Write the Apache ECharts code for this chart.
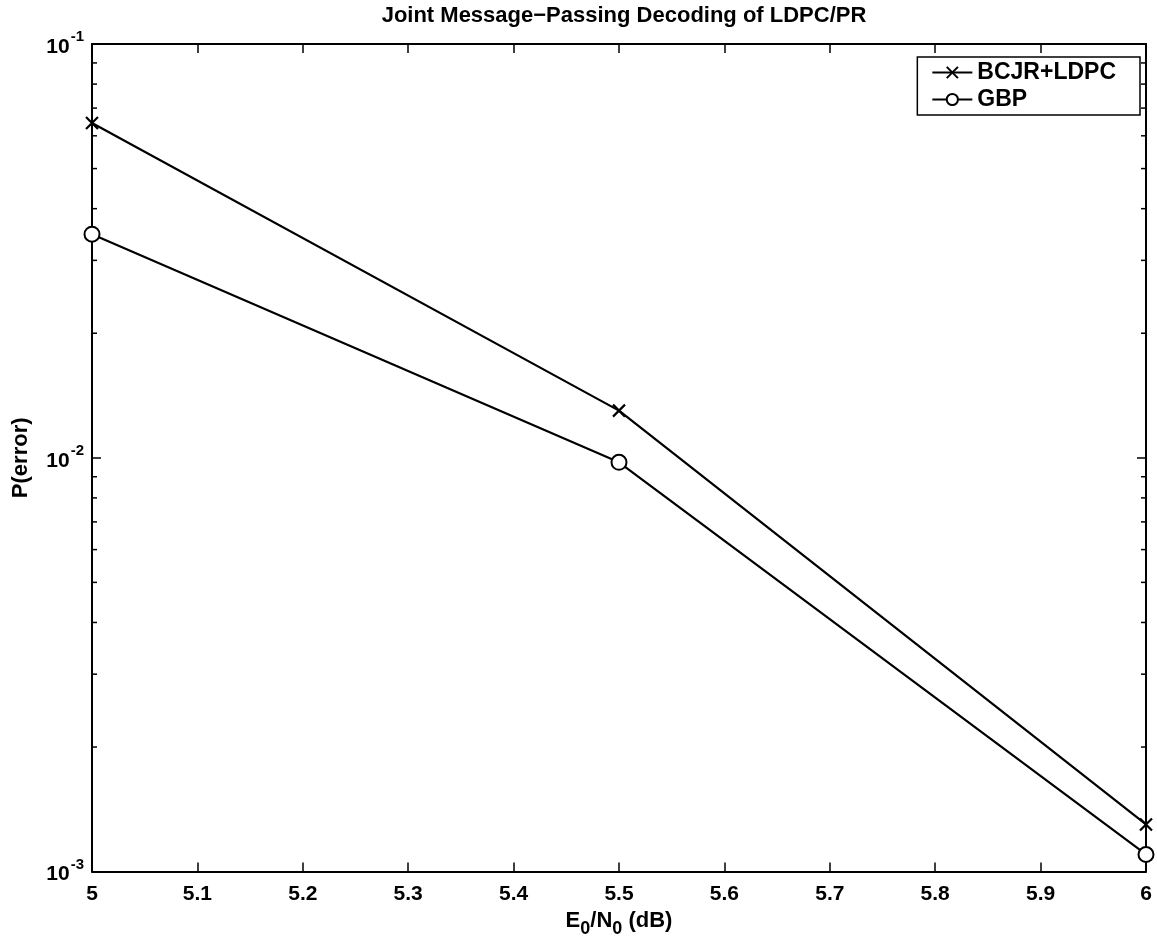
<!DOCTYPE html>
<html>
<head>
<meta charset="utf-8">
<script src="https://cdn.jsdelivr.net/npm/echarts@6/dist/echarts.min.js"></script>
<style>
html,body{margin:0;padding:0;background:#fff;}
#main{width:1157px;height:943px;}
</style>
</head>
<body>
<div id="main"></div>
<script>
const xValues = [5, 5.5, 6];
const bcjrLdpc = [0.0644, 0.0130, 0.00130];
const gbp = [0.0347, 0.00975, 0.00110];
const seriesNames = ['BCJR+LDPC', 'GBP'];
const minorTickValues = [0.002,0.003,0.004,0.005,0.006,0.007,0.008,0.009,
                         0.02,0.03,0.04,0.05,0.06,0.07,0.08,0.09];
const titleText = 'Joint Message\u2212Passing Decoding of LDPC/PR';

const FONT = 'Liberation Sans, Arial, Helvetica, sans-serif';
const chart = echarts.init(document.getElementById('main'), null, {renderer:'canvas'});

function pairs(xs, ys){ return xs.map((x,i)=>[x, ys[i]]); }

const crossPath = 'path://M0,0L10,10M10,0L0,10';

const option = {
  backgroundColor: '#fff',
  animation: false,
  title: {
    text: titleText,
    left: 619, top: 0, textAlign: 'center',
    textStyle: {fontFamily: FONT, fontSize: 22, fontWeight: 'bold', color: '#000'}
  },
  legend: {
    data: seriesNames,
    right: 17, top: 57,
    orient: 'vertical',
    backgroundColor: '#fff',
    borderColor: '#000', borderWidth: 1.5, borderRadius: 0,
    padding: [4, 24, 4, 14],
    itemGap: 4,
    itemWidth: 40, itemHeight: 14,
    textStyle: {fontFamily: FONT, fontSize: 23, fontWeight: 'bold', color: '#000'}
  },
  grid: {left: 92, right: 11, top: 44, bottom: 69, show: false},
  xAxis: [{
    type: 'value', min: 5, max: 6, interval: 0.1, position: 'bottom',
    name: '{n|E}{s|0}{n|/N}{s|0}{n| (dB)}', nameLocation: 'middle', nameGap: 37,
    nameTextStyle: {
      rich: {
        n: {fontFamily: FONT, fontSize: 22, fontWeight: 'bold', color: '#000', padding:[0,0,7,0]},
        s: {fontFamily: FONT, fontSize: 18, fontWeight: 'bold', color: '#000', padding:[10,0,0,0]}
      }
    },
    axisLine: {show: true, onZero: false, lineStyle: {color: '#000', width: 2}},
    axisTick: {show: true, inside: true, length: 9, lineStyle: {color: '#000', width: 1.5}},
    axisLabel: {fontFamily: FONT, fontSize: 21, fontWeight: 'bold', color: '#000', margin: 12,
      formatter: v => String(Math.round(v*10)/10)},
    splitLine: {show: false}
  }, {
    type: 'value', min: 5, max: 6, interval: 0.1, position: 'top',
    axisLine: {show: true, onZero: false, lineStyle: {color: '#000', width: 2}},
    axisTick: {show: true, inside: true, length: 9, lineStyle: {color: '#000', width: 1.5}},
    axisLabel: {show: false},
    splitLine: {show: false}
  }],
  yAxis: [{
    type: 'log', logBase: 10, min: 0.001, max: 0.1, interval: 1, position: 'left',
    name: 'P(error)', nameLocation: 'middle', nameGap: 60, nameRotate: 90,
    nameTextStyle: {fontFamily: FONT, fontSize: 22, fontWeight: 'bold', color: '#000'},
    axisLine: {show: true, onZero: false, lineStyle: {color: '#000', width: 2}},
    axisTick: {show: true, inside: true, length: 9, lineStyle: {color: '#000', width: 1.5}},
    axisLabel: {
      margin: 8,
      formatter: v => '{b|10}{s|' + Math.round(Math.log10(v)) + '}',
      rich: {
        b: {fontFamily: FONT, fontSize: 21, fontWeight: 'bold', color: '#000', padding:[6,0,0,0]},
        s: {fontFamily: FONT, fontSize: 15, fontWeight: 'bold', color: '#000', padding:[0,0,14,1]}
      }
    },
    splitLine: {show: false}
  }, {
    type: 'log', logBase: 10, min: 0.001, max: 0.1, interval: 1, position: 'right',
    axisLine: {show: true, onZero: false, lineStyle: {color: '#000', width: 2}},
    axisTick: {show: true, inside: true, length: 9, lineStyle: {color: '#000', width: 1.5}},
    axisLabel: {show: false},
    splitLine: {show: false}
  }],
  series: [{
    name: seriesNames[0], type: 'line',
    data: pairs(xValues, bcjrLdpc),
    symbol: crossPath, symbolSize: 12,
    lineStyle: {color: '#000', width: 2.2},
    itemStyle: {color: '#000', borderColor: '#000', borderWidth: 2.2},
    z: 5
  }, {
    name: seriesNames[1], type: 'line',
    data: pairs(xValues, gbp),
    symbol: 'emptyCircle', symbolSize: 15,
    lineStyle: {color: '#000', width: 2.2},
    itemStyle: {color: '#000', borderColor: '#000', borderWidth: 2.2},
    z: 5
  }, {
    name: 'minorTicks', type: 'custom',
    xAxisIndex: 0, yAxisIndex: 0,
    data: minorTickValues.map(v => [v]),
    clip: false, silent: true,
    renderItem: function(params, api){
      const v = api.value(0);
      const p = api.coord([5, v]);
      const q = api.coord([6, v]);
      const st = {stroke: '#000', lineWidth: 1.5};
      return {type: 'group', children: [
        {type: 'line', shape: {x1: p[0], y1: p[1], x2: p[0]+5, y2: p[1]}, style: st},
        {type: 'line', shape: {x1: q[0]-5, y1: q[1], x2: q[0], y2: q[1]}, style: st}
      ]};
    },
    encode: {y: 0}
  }]
};
chart.setOption(option);
</script>
</body>
</html>
